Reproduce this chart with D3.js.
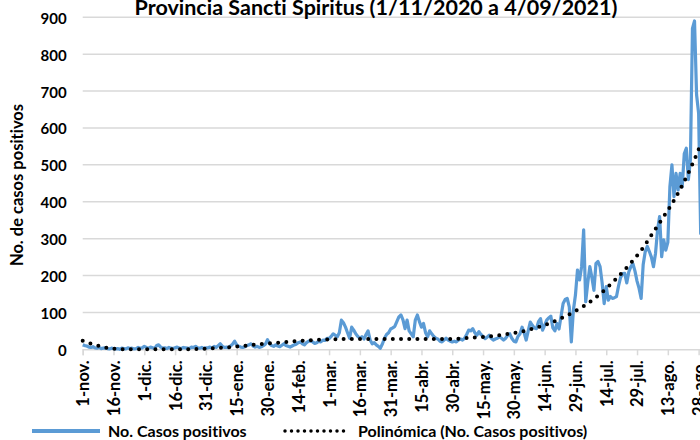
<!DOCTYPE html>
<html>
<head>
<meta charset="utf-8">
<script src="https://cdn.jsdelivr.net/npm/d3@7"></script>
<style>
  body { margin: 0; background: #fff; }
  text { font-family: Lato, "Open Sans", sans-serif; font-weight: bold; font-variant-ligatures: none; }
</style>
</head>
<body>
<div id="chart"></div>
<script>
// daily positive cases, 1-nov-2020 .. 4-sep-2021 (one value per day)
var dailyCases = [
  // nov
  12, 10, 9, 6, 5, 7, 4, 3, 5, 2, 3, 4, 2, 1, 3, 2, 1, 2, 0, 3, 2, 1, 4, 2, 3, 1, 2, 5, 3, 4,
  // dic
  8, 5, 3, 6, 4, 2, 10, 12, 6, 3, 4, 2, 5, 3, 2, 4, 6, 3, 2, 5, 4, 3, 2, 6, 5, 8, 4, 3, 5, 2, 4,
  // ene
  4, 6, 3, 8, 5, 10, 15, 8, 5, 6, 4, 9, 14, 22, 12, 8, 6, 5, 7, 10, 12, 15, 9, 6, 8, 5, 7, 10, 14, 26, 15,
  // feb
  10, 8, 12, 9, 7, 11, 15, 10, 8, 6, 9, 12, 14, 18, 20, 15, 12, 18, 22, 23, 20, 16, 18, 22, 20, 25, 24, 30,
  // mar
  29, 35, 42, 38, 34, 45, 79, 72, 60, 45, 30, 60, 52, 42, 35, 30, 34, 28, 40, 50, 25, 15, 18, 12, 8, 3, 15, 30, 40, 45, 55,
  // abr
  58, 62, 75, 88, 93, 80, 56, 79, 50, 42, 34, 79, 93, 75, 60, 70, 45, 34, 50, 42, 35, 30, 28, 22, 20, 25, 30, 25, 22, 20,
  // may
  22, 20, 25, 28, 25, 30, 40, 52, 50, 56, 45, 38, 48, 40, 35, 29, 33, 38, 30, 25, 28, 30, 34, 30, 25, 30, 38, 42, 30, 22, 20,
  // jun
  35, 42, 60, 45, 25, 50, 74, 65, 58, 56, 75, 83, 52, 65, 79, 85, 90, 58, 50, 70, 55, 90, 124, 135, 138, 115, 20, 106, 147, 215,
  // jul
  188, 224, 324, 129, 180, 224, 195, 160, 233, 238, 224, 180, 124, 170, 133, 143, 138, 140, 143, 172, 195, 205, 206, 180, 210, 224, 232, 212, 185, 165, 138,
  // ago
  230, 265, 279, 265, 250, 224, 260, 324, 360, 251, 297, 269, 290, 440, 500, 414, 477, 432, 477, 440, 530, 545, 460, 514, 870, 890, 690, 640, 314, 420, 480,
  // sep
  430, 400, 450, 380
];

// polynomial trend line (day index : cases)
var trendDays   = [0, 4, 8, 12, 16, 20, 30, 40, 50, 56, 64, 72, 80, 88, 96, 104, 112, 120, 135, 150, 165, 180, 188, 196, 204, 212, 220, 228, 236, 244, 252, 260, 266, 272, 278, 283, 287, 291, 295, 298, 301, 307];
var trendValues = [23, 15, 9, 4, 1, 0, 0, 0, 0, 1, 3, 6, 10, 15, 18, 22, 25, 27, 28, 28, 28, 28, 31, 34, 39, 46, 57, 72, 92, 117, 150, 192, 228, 268, 318, 360, 394, 434, 478, 515, 555, 625];

var xTickLabels = ["1-nov.", "16-nov.", "1-dic.", "16-dic.", "31-dic.", "15-ene.", "30-ene.", "14-feb.",
  "1-mar.", "16-mar.", "31-mar.", "15-abr.", "30-abr.", "15-may.", "30-may.", "14-jun.", "29-jun.",
  "14-jul.", "29-jul.", "13-ago.", "28-ago."];
var yTicks = [0, 100, 200, 300, 400, 500, 600, 700, 800, 900];

var startDate = new Date(Date.UTC(2020, 10, 1));
var endDate = new Date(Date.UTC(2021, 8, 4));

var svgWidth = 700;
var svgHeight = 440;

var margin = { top: 17.3, left: 82.7, bottom: 90.7 };
var width = 630.3;   // runs past the right edge, the picture is cropped there
var height = svgHeight - margin.top - margin.bottom;

var svg = d3.select("#chart")
  .append("svg")
  .attr("width", svgWidth)
  .attr("height", svgHeight);

var chartGroup = svg.append("g")
  .attr("transform", `translate(${margin.left}, ${margin.top})`);

var xScale = d3.scaleUtc()
  .domain([startDate, endDate])
  .range([0, width]);

var yScale = d3.scaleLinear()
  .domain([0, 900])
  .range([height, 0]);

var dayToDate = i => d3.utcDay.offset(startDate, i);

// horizontal grid
chartGroup.append("g")
  .selectAll("line")
  .data(yTicks.filter(d => d > 0))
  .enter()
  .append("line")
  .attr("x1", 0)
  .attr("x2", width)
  .attr("y1", d => yScale(d))
  .attr("y2", d => yScale(d))
  .attr("stroke", "#d9d9d9")
  .attr("stroke-width", 1.5);

// y axis labels
var leftAxis = d3.axisLeft(yScale).tickValues(yTicks).tickSize(0).tickPadding(16);
var yAxisG = chartGroup.append("g").call(leftAxis);
yAxisG.select(".domain").remove();
yAxisG.selectAll("text")
  .style("font-size", "15px")
  .attr("fill", "#000")
  .attr("dy", "0.4em");

// x axis
var xTickDates = xTickLabels.map((d, i) => dayToDate(i * 15));
var bottomAxis = d3.axisBottom(xScale)
  .tickValues(xTickDates)
  .tickSize(6)
  .tickFormat((d, i) => xTickLabels[i]);

var xAxisG = chartGroup.append("g")
  .attr("transform", `translate(0, ${height})`)
  .call(bottomAxis);
xAxisG.select(".domain").attr("stroke", "#d9d9d9").attr("stroke-width", 1.5);
xAxisG.selectAll(".tick line").attr("stroke", "#d9d9d9").attr("stroke-width", 1.5);
xAxisG.selectAll("text")
  .attr("transform", "rotate(-90)")
  .attr("text-anchor", "end")
  .attr("x", -11)
  .attr("y", 0)
  .attr("dy", "0.36em")
  .attr("fill", "#000")
  .style("font-size", "16.5px");

// cases line
var casesLine = d3.line()
  .x((d, i) => xScale(dayToDate(i)))
  .y(d => yScale(d));

chartGroup.append("path")
  .datum(dailyCases)
  .attr("d", casesLine)
  .attr("fill", "none")
  .attr("stroke", "#5b9bd5")
  .attr("stroke-width", 3.2)
  .attr("stroke-linejoin", "round");

// trend line (round dots)
var trendLine = d3.line()
  .curve(d3.curveMonotoneX)
  .x(d => xScale(dayToDate(d[0])))
  .y(d => yScale(d[1]));

chartGroup.append("path")
  .datum(trendDays.map((d, i) => [d, trendValues[i]]))
  .attr("d", trendLine)
  .attr("fill", "none")
  .attr("stroke", "#000")
  .attr("stroke-width", 4)
  .attr("stroke-linecap", "round")
  .attr("stroke-dasharray", "0 8.2");

// title (cropped at the top)
svg.append("text")
  .attr("x", 376)
  .attr("y", 15)
  .attr("text-anchor", "middle")
  .style("font-size", "21.5px")
  .text("Provincia Sancti Spiritus (1/11/2020 a 4/09/2021)");

// y axis title
svg.append("text")
  .attr("transform", "translate(23, 185) rotate(-90)")
  .attr("text-anchor", "middle")
  .style("font-size", "16.5px")
  .text("No. de casos positivos");

// legend
var legend = svg.append("g");
legend.append("line")
  .attr("x1", 32).attr("x2", 100)
  .attr("y1", 431).attr("y2", 431)
  .attr("stroke", "#5b9bd5")
  .attr("stroke-width", 4);
legend.append("text")
  .attr("x", 108).attr("y", 437)
  .style("font-size", "16px")
  .text("No. Casos positivos");
legend.append("line")
  .attr("x1", 285).attr("x2", 350)
  .attr("y1", 431).attr("y2", 431)
  .attr("stroke", "#000")
  .attr("stroke-width", 3.5)
  .attr("stroke-linecap", "round")
  .attr("stroke-dasharray", "0 6.5");
legend.append("text")
  .attr("x", 358).attr("y", 437)
  .style("font-size", "16px")
  .text("Polinómica (No. Casos positivos)");
</script>
</body>
</html>
